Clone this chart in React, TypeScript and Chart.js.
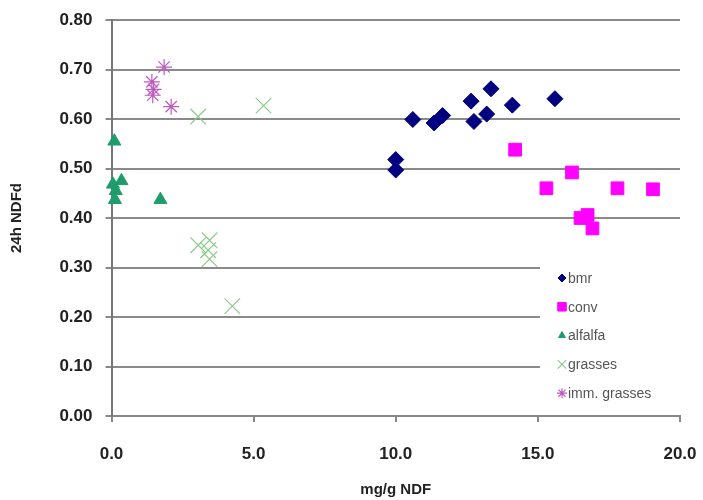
import React, { useEffect, useRef } from "react";
import { Chart, registerables } from "chart.js";
import { drawPoint } from "chart.js/helpers";

Chart.register(...registerables);

const bmrX = [10.0, 10.0, 10.6, 11.35, 11.65, 12.65, 12.75, 13.2, 13.35, 14.1, 15.6];
const bmrY = [0.518, 0.497, 0.599, 0.592, 0.607, 0.636, 0.595, 0.61, 0.661, 0.628, 0.641];

const convX = [14.2, 15.3, 16.2, 17.8, 19.05, 16.5, 16.75, 16.92];
const convY = [0.538, 0.46, 0.492, 0.46, 0.458, 0.4, 0.406, 0.379];

const alfalfaX = [0.1, 0.05, 0.35, 0.15, 0.12, 1.72];
const alfalfaY = [0.555, 0.468, 0.475, 0.455, 0.437, 0.437];

const grassesX = [3.05, 5.35, 3.05, 3.45, 3.4, 3.45, 4.25];
const grassesY = [0.605, 0.627, 0.345, 0.355, 0.335, 0.317, 0.222];

const immX = [1.85, 1.42, 1.48, 1.45, 2.1];
const immY = [0.705, 0.675, 0.66, 0.648, 0.625];

const xTicks = ["0.0", "5.0", "10.0", "15.0", "20.0"];

const seriesNames = ["bmr", "conv", "alfalfa", "grasses", "imm. grasses"];

const toPts = (xs: number[], ys: number[]) => xs.map((x, i) => ({ x, y: ys[i] }));

const legendPlugin = {
  id: "boxLegend",
  afterDatasetsDraw(chart: any) {
    const ctx = chart.ctx;
    const area = chart.chartArea;
    ctx.save();
    ctx.fillStyle = "#ffffff";
    const bx = 540;
    const by = 256;
    ctx.fillRect(bx, by, area.right - bx + 2, 413 - by);
    const startY = 278;
    const step = 28.8;
    chart.data.datasets.forEach((ds: any, i: number) => {
      const y = startY + i * step;
      const x = 562;
      ctx.fillStyle = ds.backgroundColor;
      ctx.strokeStyle = ds.borderColor;
      ctx.lineWidth = ds.borderWidth;
      drawPoint(ctx, { pointStyle: ds.pointStyle, radius: ds.legendRadius, rotation: 0, borderWidth: ds.borderWidth }, x, y);
      ctx.fillStyle = "#555555";
      ctx.font = "14px 'Liberation Sans', Arial, sans-serif";
      ctx.textBaseline = "middle";
      ctx.textAlign = "left";
      ctx.fillText(ds.label, x + 6, y + 1);
    });
    ctx.restore();
  },
};

export default function App() {
  const ref = useRef<HTMLCanvasElement>(null);
  useEffect(() => {
    if (!ref.current) return;
    const chart = new Chart(ref.current, {
      type: "scatter",
      data: {
        datasets: [
          {
            label: seriesNames[0],
            data: toPts(bmrX, bmrY),
            pointStyle: "rectRot",
            pointRadius: 8,
            backgroundColor: "#000080",
            borderColor: "#000080",
            borderWidth: 1,
            legendRadius: 4,
            clip: false,
          } as any,
          {
            label: seriesNames[1],
            data: toPts(convX, convY),
            pointStyle: "rect",
            pointRadius: 9,
            backgroundColor: "#FF00FF",
            borderColor: "#FF00FF",
            borderWidth: 1,
            legendRadius: 6,
            clip: false,
          } as any,
          {
            label: seriesNames[2],
            data: toPts(alfalfaX, alfalfaY),
            pointStyle: "triangle",
            pointRadius: 7.5,
            backgroundColor: "#1E9C6B",
            borderColor: "#1E9C6B",
            borderWidth: 1,
            legendRadius: 4,
            clip: false,
          } as any,
          {
            label: seriesNames[3],
            data: toPts(grassesX, grassesY),
            pointStyle: "crossRot",
            pointRadius: 11,
            backgroundColor: "#8ACB8A",
            borderColor: "#8ACB8A",
            borderWidth: 1.2,
            legendRadius: 6,
            clip: false,
          } as any,
          {
            label: seriesNames[4],
            data: toPts(immX, immY),
            pointStyle: "star",
            pointRadius: 8,
            backgroundColor: "#BF5ABF",
            borderColor: "#BF5ABF",
            borderWidth: 1.2,
            legendRadius: 5,
            clip: false,
          } as any,
        ],
      },
      options: {
        animation: false,
        responsive: false,
        maintainAspectRatio: false,
        layout: { padding: { top: 20, right: 23, left: 0, bottom: 0 } },
        plugins: {
          legend: { display: false },
          tooltip: { enabled: false },
        },
        scales: {
          x: {
            type: "linear",
            min: 0,
            max: 20,
            afterFit: (s: any) => {
              s.height = 84;
              s.paddingLeft = 0;
              s.paddingRight = 0;
            },
            afterBuildTicks: (s: any) => {
              s.ticks = xTicks.map((t) => ({ value: parseFloat(t) }));
            },
            ticks: {
              stepSize: 5,
              padding: 22,
              color: "#222222",
              font: { family: "'Liberation Sans', Arial, sans-serif", size: 17, weight: "bold" },
              callback: (v: any) => xTicks[Math.round(Number(v) / 5)],
              maxRotation: 0,
            },
            grid: {
              drawOnChartArea: false,
              drawTicks: true,
              tickLength: 6,
              color: "#888888",
              lineWidth: 2,
            },
            border: { color: "#888888", width: 2 },
            title: {
              display: true,
              text: "mg/g NDF",
              color: "#222222",
              font: { family: "'Liberation Sans', Arial, sans-serif", size: 15, weight: "bold" },
              padding: { top: 0, bottom: 1 },
            },
          },
          y: {
            type: "linear",
            min: 0,
            max: 0.8,
            afterFit: (s: any) => {
              s.width = 111.5;
              s.paddingTop = 0;
              s.paddingBottom = 0;
            },
            ticks: {
              stepSize: 0.1,
              padding: 13,
              color: "#222222",
              font: { family: "'Liberation Sans', Arial, sans-serif", size: 17, weight: "bold" },
              callback: (v: any) => Number(v).toFixed(2),
            },
            grid: {
              drawTicks: true,
              tickLength: 6,
              color: "#8a8a8a",
              lineWidth: 2,
            },
            border: { color: "#777777", width: 2 },
            title: {
              display: true,
              text: "24h NDFd",
              color: "#222222",
              font: { family: "'Liberation Sans', Arial, sans-serif", size: 15, weight: "bold" },
              padding: { top: 8, bottom: 0 },
            },
          },
        },
      },
      plugins: [legendPlugin],
    } as any);
    return () => chart.destroy();
  }, []);
  return (
    <div style={{ position: "absolute", left: 0, top: 0, width: 703, height: 500, background: "#fff" }}>
      <canvas ref={ref} width={703} height={500} style={{ width: 703, height: 500 }} />
    </div>
  );
}
